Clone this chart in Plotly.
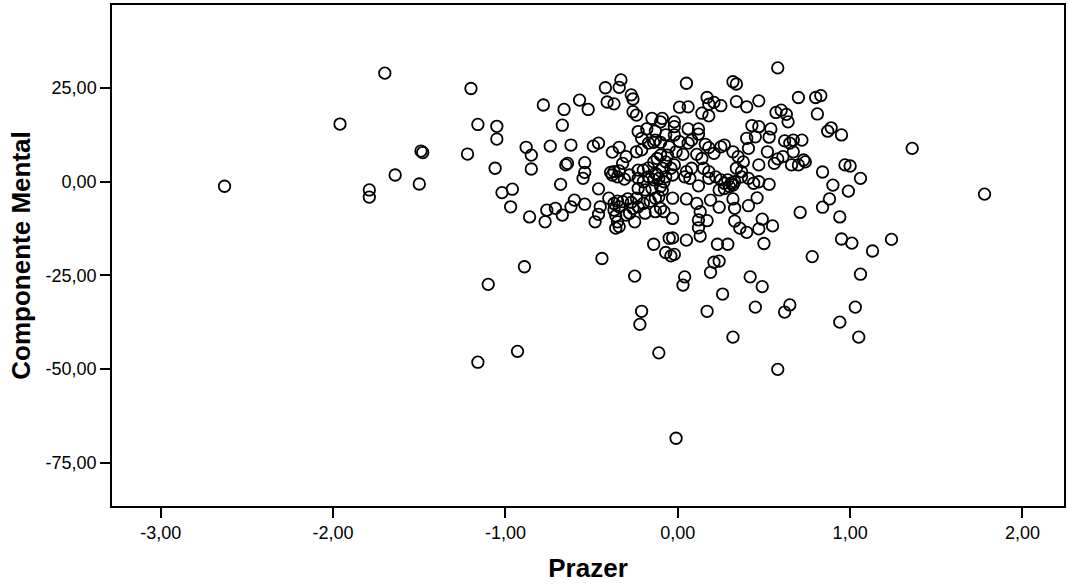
import plotly.graph_objects as go

# Prazer (x) vs Componente Mental (y), one entry per respondent
prazer = [
    -2.63, -1.96, -1.70, -1.79, -1.79, -1.64, -1.50, -1.49, -1.48, -1.20,
    -1.22, -1.16, -1.05, -1.05, -1.06, -0.88, -0.85, -0.85, -1.02, -0.96,
    -0.97, -0.86, -0.89, -1.10, -1.16, -0.93,
    -0.78, -0.66, -0.67, -0.57, -0.52, -0.42, -0.33, -0.34, -0.41, -0.37,
    -0.27, -0.26, -0.26, -0.24, -0.23, -0.18, -0.15, -0.13, -0.10, -0.13,
    -0.10, -0.74, -0.62, -0.49, -0.46, -0.65, -0.64, -0.54, -0.54, -0.38,
    -0.34, -0.30, -0.32, -0.39, -0.37, -0.34, -0.24, -0.21, -0.23, -0.17,
    -0.14, -0.13, -0.09, -0.10, -0.21, -0.17, -0.14, -0.12, -0.20, -0.12,
    0.58, 0.05, 0.32, 0.34, 0.17, 0.18, 0.21, 0.25, 0.01, 0.06,
    0.34, 0.40, 0.47, 0.14, 0.18, 0.57, 0.60, 0.63, 0.64, -0.09,
    -0.02, -0.02, 0.06, 0.12, 0.12, 0.43, 0.47, 0.54, 0.40, 0.45,
    0.53, 0.62, 0.65, 0.41, 0.52, 0.01, 0.06, 0.08, -0.01, 0.03,
    0.16, 0.18, 0.25, 0.27, 0.11, 0.14, 0.21, 0.32, 0.35, 0.38,
    0.34, 0.37, 0.47, 0.56, 0.58, 0.61, 0.66, -0.07, -0.04, 0.08,
    0.05, 0.15, 0.18, -0.07, -0.02, -0.05, -0.06, -0.02, -0.07, -0.03,
    0.70, 0.80, 0.83, 0.81, 0.87, 0.89, 0.95, 1.36, 0.67, 0.72,
    0.67, 0.73, 0.74, 0.70, 0.84, 0.97, 1.00, 1.06, 0.90, 0.99,
    0.88, 0.84, 0.71, 0.94, 0.95, 1.01, 1.13, 1.24, 0.78, 1.06,
    1.78,
    0.12, -0.03, 0.05, 0.11, 0.19, 0.24, 0.32, 0.33, 0.41, 0.46,
    -0.08, -0.03, 0.13, 0.12, 0.17, 0.12, 0.13, 0.33, 0.36, 0.40,
    0.47, 0.49, 0.55, 0.50, -0.05, -0.03, 0.05, -0.07, -0.04, -0.02,
    0.23, 0.29, 0.21, 0.24, 0.19, 0.04, 0.03, 0.42, 0.49, 0.26,
    -0.11, -0.08, -0.09, -0.11, 0.04, 0.07, 0.18, 0.22, 0.25, 0.27,
    0.29, 0.31, 0.33, 0.37, 0.41, 0.44, 0.47, 0.53, 0.24, 0.27,
    0.30, 0.32,
    -0.68, -0.55, -0.46, -0.77, -0.76, -0.71, -0.67, -0.62, -0.60, -0.54,
    -0.45, -0.46, -0.48, -0.40, -0.36, -0.35, -0.36, -0.34, -0.25, -0.28,
    -0.30, -0.19, -0.13, -0.10, -0.14, -0.44, -0.25,
    -0.37, -0.35, -0.32, -0.29, -0.27, -0.24, -0.20, -0.16, -0.13, -0.37,
    -0.34, -0.26, -0.23,
    -0.38, -0.35, -0.31, -0.28, -0.23, -0.20, -0.17, -0.14, -0.23, -0.19,
    -0.15, -0.10,
    -0.21, -0.22, -0.11, -0.01, 0.17, 0.32, 0.45, 0.65, 0.62, 1.03,
    0.94, 1.05, 0.58,
]
componente_mental = [
    -1.2, 15.4, 29.0, -2.2, -4.1, 1.8, -0.6, 8.2, 7.8, 24.9,
    7.4, 15.3, 14.8, 11.4, 3.6, 9.2, 7.1, 3.4, -2.9, -2.0,
    -6.7, -9.4, -22.7, -27.4, -48.2, -45.3,
    20.5, 19.3, 15.1, 21.8, 19.3, 25.1, 27.2, 25.2, 21.3, 20.8,
    23.2, 22.1, 18.7, 17.8, 13.4, 14.1, 16.9, 13.5, 16.0, 11.1,
    10.5, 9.5, 9.8, 9.5, 10.3, 4.5, 4.9, 5.1, 2.5, 7.9,
    9.2, 6.7, 4.9, 2.5, 2.7, 2.9, 8.0, 8.5, 3.1, 3.7,
    5.3, 2.2, 3.6, 7.1, 11.6, 10.3, 10.5, 6.2, 3.1, 1.8,
    30.4, 26.3, 26.7, 26.1, 22.5, 20.7, 21.2, 20.3, 19.9, 20.0,
    21.4, 20.0, 21.6, 18.3, 17.6, 18.5, 19.1, 18.0, 16.0, 16.9,
    16.0, 14.7, 14.1, 14.1, 12.7, 15.0, 14.7, 14.1, 11.6, 12.0,
    11.9, 10.9, 10.3, 8.9, 8.0, 10.7, 10.3, 11.1, 8.0, 7.3,
    10.0, 9.1, 9.3, 9.8, 7.3, 6.2, 7.6, 8.0, 6.7, 5.3,
    3.6, 2.7, 4.5, 4.9, 6.1, 6.7, 4.5, 5.3, 3.6, 3.6,
    2.7, 3.6, 2.7, 12.5, 12.5, 9.3, 7.1, 4.5, 1.3, 1.8,
    22.5, 22.5, 23.0, 18.1, 13.5, 14.4, 12.5, 8.9, 11.1, 11.1,
    8.0, 5.8, 5.3, 4.5, 2.6, 4.5, 4.2, 0.9, -0.9, -2.5,
    -4.6, -6.8, -8.2, -9.4, -15.3, -16.4, -18.5, -15.4, -20.0, -24.7,
    -3.3,
    -1.1, -4.4, -4.6, -5.8, -4.9, -6.8, -4.6, -7.1, -6.4, -4.3,
    -8.0, -9.8, -8.0, -10.2, -10.4, -12.3, -14.5, -10.5, -12.4, -13.5,
    -12.6, -10.0, -11.8, -16.5, -15.1, -15.0, -15.6, -18.9, -19.8, -19.4,
    -16.7, -16.7, -21.5, -21.2, -24.2, -25.4, -27.6, -25.4, -28.0, -30.0,
    0.9, 0.0, -2.2, -4.0, 1.3, 0.9, 0.9, 1.3, 0.5, -0.4,
    0.5, -0.4, 0.0, 1.3, 0.9, -0.4, 0.0, -0.7, -2.2, -1.8,
    -1.3, -0.9,
    -0.7, 0.9, -1.9, -10.7, -7.6, -7.1, -8.9, -6.7, -4.9, -6.0,
    -6.7, -8.7, -10.7, -4.4, -9.1, -10.7, -12.4, -12.0, -10.7, -8.4,
    -8.9, -8.4, -8.0, -7.1, -16.7, -20.5, -25.2,
    -5.8, -5.2, -5.3, -4.6, -5.5, -4.4, -5.8, -5.2, -4.4, -7.6,
    -6.7, -7.1, -6.7,
    1.8, 1.3, 0.7, 1.8, 0.9, 0.0, 1.3, 0.5, -1.8, -2.2,
    -1.8, -1.3,
    -34.6, -38.1, -45.7, -68.5, -34.6, -41.5, -33.5, -32.9, -34.8, -33.5,
    -37.5, -41.5, -50.1,
]

x_ticks = [-3, -2, -1, 0, 1, 2]
y_ticks = [-75, -50, -25, 0, 25]


def comma_label(v):
    # two decimals, comma as decimal mark, plain hyphen for negatives
    return f"{v:.2f}".replace(".", ",")


FONT = "Liberation Sans, Arial, sans-serif"

fig = go.Figure(
    go.Scatter(
        x=prazer,
        y=componente_mental,
        mode="markers",
        marker=dict(symbol="circle-open", size=11.5, color="black",
                    line=dict(width=1.8)),
        hoverinfo="x+y",
    )
)

axis_common = dict(
    showline=True, linecolor="black", linewidth=1.5, mirror=True,
    ticks="outside", ticklen=10, tickwidth=1.5, tickcolor="black",
    showgrid=False, zeroline=False,
    tickfont=dict(family=FONT, size=18, color="black"),
)

fig.update_xaxes(
    range=[-3.283, 2.241], tickmode="array",
    tickvals=x_ticks, ticktext=[comma_label(v) for v in x_ticks],
    title=dict(text="<b>Prazer</b>", standoff=16,
               font=dict(family=FONT, size=26, color="black")),
    **axis_common,
)
fig.update_yaxes(
    range=[-86.6, 47.2], tickmode="array",
    tickvals=y_ticks, ticktext=[comma_label(v) for v in y_ticks],
    title=dict(text="<b>Componente Mental</b>", standoff=8,
               font=dict(family=FONT, size=26, color="black")),
    **axis_common,
)

fig.update_layout(
    width=1068, height=586,
    margin=dict(l=112, r=2, t=5, b=80),
    paper_bgcolor="white", plot_bgcolor="white",
    showlegend=False,
)

fig.write_html("out.html")
